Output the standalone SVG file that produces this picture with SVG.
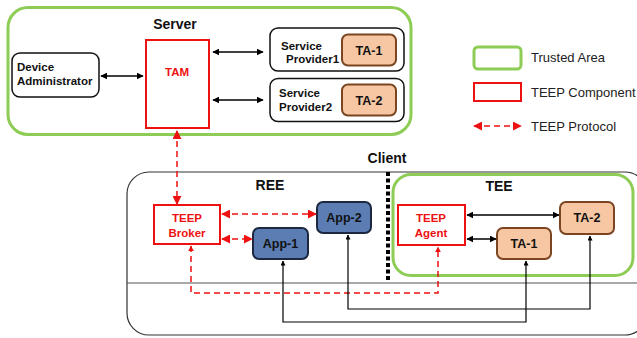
<svg xmlns="http://www.w3.org/2000/svg" width="637" height="338" viewBox="0 0 637 338">
<style>
.t{font-family:"Liberation Sans",Arial,sans-serif;font-weight:bold;fill:#111}
.title{font-size:14px}
.lbl{font-size:11.5px}
.box{font-size:12.5px}
.red{fill:#ee1111}
.green{fill:none;stroke:#8dcd55;stroke-width:3}
.redbox{fill:#fff;stroke:#ee1111;stroke-width:2}
.wbox{fill:#fff;stroke:#111;stroke-width:1.5}
.ta{fill:#f6c7a2;stroke:#7a4520;stroke-width:2}
.app{fill:#5b7db3;stroke:#1b2840;stroke-width:2}
.blk{fill:none;stroke:#000;stroke-width:1.5}
.thin{fill:none;stroke:#000;stroke-width:1.2}
.rd{fill:none;stroke:#ee1111;stroke-width:1.5;stroke-dasharray:6,4}
.leg{font-family:"Liberation Sans",Arial,sans-serif;font-size:13px;fill:#222}
</style>
<defs>
<marker id="ab" viewBox="0 0 10 10" refX="9" refY="5" markerWidth="7" markerHeight="7" orient="auto-start-reverse" markerUnits="userSpaceOnUse"><path d="M0,0 L10,5 L0,10 z" fill="#000"/></marker>
<marker id="as" viewBox="0 0 10 10" refX="9" refY="5" markerWidth="5" markerHeight="5" orient="auto-start-reverse" markerUnits="userSpaceOnUse"><path d="M0,0 L10,5 L0,10 z" fill="#000"/></marker>
<marker id="ar" viewBox="0 0 10 10" refX="9" refY="5" markerWidth="9" markerHeight="9" orient="auto-start-reverse" markerUnits="userSpaceOnUse"><path d="M0,0 L10,5 L0,10 z" fill="#ee1111"/></marker>
<marker id="ars" viewBox="0 0 10 10" refX="9" refY="5" markerWidth="6" markerHeight="6" orient="auto-start-reverse" markerUnits="userSpaceOnUse"><path d="M0,0 L10,5 L0,10 z" fill="#ee1111"/></marker>
</defs>

<g id="server">
<rect x="8" y="7.5" width="403" height="127" rx="20" class="green"/>
<text x="175" y="29" text-anchor="middle" class="t title">Server</text>
</g>

<g id="client">
<rect x="127" y="172" width="520" height="163" rx="22" fill="none" stroke="#333" stroke-width="1.2"/>
<line x1="127" y1="283" x2="637" y2="283" stroke="#555" stroke-width="1.2"/>
<text x="387" y="163" text-anchor="middle" class="t title">Client</text>
<line x1="388" y1="172" x2="388" y2="281" stroke="#000" stroke-width="4" stroke-dasharray="4,2.5"/>
<text x="270" y="190" text-anchor="middle" class="t title">REE</text>
</g>

<g id="tee">
<rect x="393" y="174.5" width="240" height="101" rx="18" class="green"/>
<text x="499" y="191" text-anchor="middle" class="t title">TEE</text>
</g>

<g id="device-admin">
<rect x="12" y="53" width="87" height="44" rx="8" class="wbox"/>
<text x="17" y="71" class="t lbl">Device</text>
<text x="17" y="85" class="t lbl">Administrator</text>
</g>

<g id="tam">
<rect x="146" y="40" width="63" height="88" class="redbox"/>
<text x="177" y="76" text-anchor="middle" class="t lbl red">TAM</text>
</g>

<g id="sp1">
<rect x="270" y="28" width="134" height="43" rx="8" class="wbox"/>
<text x="281" y="50" class="t lbl">Service</text>
<text x="286" y="63" class="t lbl">Provider1</text>
</g>
<g id="sp1-ta1">
<rect x="342" y="34.5" width="54" height="31" rx="6" class="ta"/>
<text x="369" y="55" text-anchor="middle" class="t box">TA-1</text>
</g>

<g id="sp2">
<rect x="270" y="78.5" width="134" height="43" rx="8" class="wbox"/>
<text x="279" y="97" class="t lbl">Service</text>
<text x="279" y="111" class="t lbl">Provider2</text>
</g>
<g id="sp2-ta2">
<rect x="342" y="84.5" width="54" height="31" rx="6" class="ta"/>
<text x="369" y="105" text-anchor="middle" class="t box">TA-2</text>
</g>

<g id="legend">
<rect x="474" y="47" width="47" height="22" rx="4" class="green"/>
<text x="531" y="62" class="leg">Trusted Area</text>
<rect x="474" y="83" width="47" height="18" class="redbox"/>
<text x="531" y="97" class="leg">TEEP Component</text>
<line x1="474" y1="126" x2="521" y2="126" class="rd" marker-start="url(#ar)" marker-end="url(#ar)"/>
<text x="531" y="131" class="leg">TEEP Protocol</text>
</g>

<g id="teep-broker">
<rect x="154" y="205" width="66" height="39" class="redbox"/>
<text x="187" y="222" text-anchor="middle" class="t lbl red">TEEP</text>
<text x="187" y="237" text-anchor="middle" class="t lbl red">Broker</text>
</g>

<g id="app2">
<rect x="317" y="202" width="54" height="31" rx="6" class="app"/>
<text x="344" y="222" text-anchor="middle" class="t box">App-2</text>
</g>
<g id="app1">
<rect x="253" y="228" width="55" height="31" rx="6" class="app"/>
<text x="280.5" y="248" text-anchor="middle" class="t box">App-1</text>
</g>

<g id="teep-agent">
<rect x="398" y="205" width="67" height="40" class="redbox"/>
<text x="431" y="222" text-anchor="middle" class="t lbl red">TEEP</text>
<text x="431" y="237" text-anchor="middle" class="t lbl red">Agent</text>
</g>

<g id="tee-ta2">
<rect x="560" y="202" width="54" height="32" rx="6" class="ta"/>
<text x="587" y="222" text-anchor="middle" class="t box">TA-2</text>
</g>
<g id="tee-ta1">
<rect x="497" y="228" width="54" height="31" rx="6" class="ta"/>
<text x="524" y="248" text-anchor="middle" class="t box">TA-1</text>
</g>

<g id="connectors">
<line x1="101" y1="76" x2="143" y2="76" class="blk" marker-start="url(#ab)" marker-end="url(#ab)"/>
<line x1="213" y1="52" x2="263" y2="52" class="blk" marker-start="url(#ab)" marker-end="url(#ab)"/>
<line x1="213" y1="100" x2="263" y2="100" class="blk" marker-start="url(#ab)" marker-end="url(#ab)"/>
<line x1="177" y1="131" x2="177" y2="204" class="rd" marker-start="url(#ar)" marker-end="url(#ar)"/>
<line x1="222" y1="214" x2="316" y2="214" class="rd" marker-start="url(#ar)" marker-end="url(#ar)"/>
<line x1="222" y1="239" x2="252" y2="239" class="rd" marker-start="url(#ar)" marker-end="url(#ar)"/>
<polyline points="191,246 191,293 438,293 438,247" class="rd" marker-start="url(#ars)" marker-end="url(#ars)"/>
<line x1="467" y1="215" x2="559" y2="215" class="blk" marker-start="url(#ab)" marker-end="url(#ab)"/>
<line x1="467" y1="239" x2="496" y2="239" class="blk" marker-start="url(#ab)" marker-end="url(#ab)"/>
<polyline points="283,261 283,322 526,322 526,261" class="thin" marker-start="url(#as)" marker-end="url(#as)"/>
<polyline points="348,235 348,309 590,309 590,236" class="thin" marker-start="url(#as)" marker-end="url(#as)"/>
</g>
</svg>
